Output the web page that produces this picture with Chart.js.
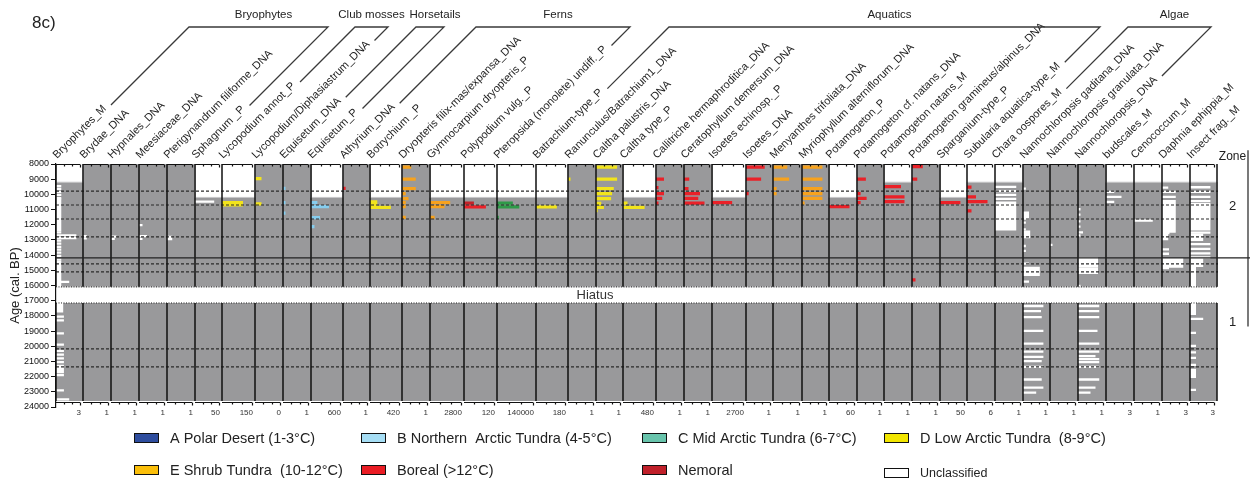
<!DOCTYPE html>
<html>
<head>
<meta charset="utf-8">
<title>8c) Macrofossil, pollen and sedaDNA indicator taxa</title>
<script src="https://cdn.jsdelivr.net/npm/chart.js@4.4.1/dist/chart.umd.min.js"></script>
<style>
  html, body { margin: 0; padding: 0; background: #fff; }
  canvas { display: block; }
</style>
</head>
<body>
<canvas id="strat" width="1258" height="485"></canvas>
<script>
const FONT = '"Liberation Sans", Arial, Helvetica, sans-serif';

// ---- taxa (one stratigraphic column each) ----
const taxa = [
  'Bryophytes_M', 'Brydae_DNA', 'Hypnales_DNA', 'Meesiaceae_DNA', 'Pterigynandrum filiforme_DNA',
  'Sphagnum _P', 'Lycopodium annot_P', 'Lycopodium/Diphasiastrum_DNA', 'Equisetum_DNA', 'Equisetum_P',
  'Athyrium_DNA', 'Botrychium _P', 'Dryopteris filix-mas/expansa_DNA', 'Gymnocarpium dryopteris_P',
  'Polypodium vulg._P', 'Pteropsida (monolete) undiff._P', 'Batrachium-type_P', 'Ranunculus/Batrachium1_DNA',
  'Caltha palustris_DNA', 'Caltha type_P', 'Callitriche hermaphroditica_DNA', 'Ceratophyllum demersum_DNA',
  'Isoetes echinosp._P', 'Isoetes_DNA', 'Menyanthes trifoliata_DNA', 'Myriophyllum alterniflorum_DNA',
  'Potamogeton_P', 'Potamogeton cf. natans_DNA', 'Potamogeton natans_M', 'Potamogeton gramineus/alpinus_DNA',
  'Sparganium-type_P', 'Subularia aquatica-type_M', 'Chara oospores_M', 'Nannochloropsis gaditana_DNA',
  'Nannochloropsis granulata_DNA', 'Nannochloropsis_DNA', 'budscales_M', 'Cenococcum_M',
  'Daphnia ephippia_M', 'Insect frag._M'
];

// full-scale value printed under each column
const scaleLabels = ['3','1','1','1','1','50','150','0','1','600','1','420','1','2800','120','140000','180','1','1','480',
                     '1','1','2700','1','1','1','60','1','1','1','50','6','1','1','1','1','3','1','3','3'];

const groupNames = ['Bryophytes', 'Club mosses', 'Horsetails', 'Ferns', 'Aquatics', 'Algae'];
const groupSpans = [[0, 5], [6, 7], [8, 9], [10, 15], [16, 31], [32, 35]];

// youngest sample of each record (cal. BP)
const firstSampleAge = [9200, 8000, 8000, 8000, 8000, 10200, 10200, 8000, 8000, 10200,
                        8000, 10200, 8000, 10200, 10200, 10200, 10200, 8000, 8000, 10200,
                        8000, 8000, 10200, 8000, 8000, 8000, 10200, 8000, 9200, 8000,
                        10200, 9200, 9200, 8000, 8000, 8000, 9200, 9200, 9200, 9200];
const hiatus = [16090, 17150];
const recordBase = 23600;
const zoneDashed = [9780, 10700, 11620, 12800, 14580, 15100, 20170, 21360];
const zoneBoundary = 14180;
const zoneLabels = ['2', '1'];
const zoneLabelAges = [10800, 18400];

// samples: [taxon index, age (cal. BP), value as a fraction of the column's full scale]
const polarDesert = [];
const northernArcticTundra = [
  [8, 9600, 0.10], [8, 10540, 0.10], [8, 11230, 0.10],
  [9, 10540, 0.22], [9, 10800, 0.62], [9, 11530, 0.31], [9, 12120, 0.12]
];
const midArcticTundra = [
  [15, 10570, 0.44], [15, 10830, 0.62], [15, 11510, 0.05]
];
const lowArcticTundra = [
  [6, 10540, 0.70], [6, 10690, 0.70],
  [7, 8970, 0.26], [7, 10630, 0.26],
  [11, 10500, 0.25], [11, 10660, 0.25], [11, 10850, 0.72],
  [16, 10830, 0.72],
  [17, 9000, 0.10],
  [18, 8200, 0.88], [18, 8990, 0.88], [18, 9620, 0.74], [18, 9950, 0.67], [18, 10280, 0.63],
  [18, 10590, 0.22], [18, 10850, 0.33], [18, 11070, 0.07],
  [19, 10570, 0.15], [19, 10850, 0.72]
];
const shrubTundra = [
  [12, 8200, 0.37], [12, 8990, 0.55], [12, 9620, 0.55], [12, 9950, 0.15], [12, 10280, 0.26],
  [12, 10540, 0.15], [12, 10800, 0.15], [12, 11510, 0.15],
  [13, 10540, 0.65], [13, 10810, 0.47], [13, 11510, 0.15],
  [24, 8200, 0.55], [24, 8990, 0.62], [24, 9620, 0.14], [24, 9950, 0.14],
  [25, 8200, 0.85], [25, 8990, 0.85], [25, 9620, 0.85], [25, 9950, 0.85], [25, 10260, 0.85], [25, 10570, 0.11]
];
const boreal = [
  [10, 9600, 0.11],
  [14, 10830, 0.73],
  [20, 8990, 0.32], [20, 9560, 0.10], [20, 9950, 0.32], [20, 10260, 0.25], [20, 10570, 0.10],
  [21, 8990, 0.21], [21, 9620, 0.18], [21, 9950, 0.64], [21, 10260, 0.57], [21, 10570, 0.82],
  [22, 10540, 0.65],
  [23, 8200, 0.78], [23, 8990, 0.63], [23, 9950, 0.11],
  [26, 10810, 0.82],
  [27, 8990, 0.37], [27, 9950, 0.15], [27, 10260, 0.40], [27, 10540, 0.15],
  [28, 9490, 0.68], [28, 10170, 0.82], [28, 10480, 0.82],
  [29, 8180, 0.43], [29, 8990, 0.21], [29, 15630, 0.14],
  [30, 10540, 0.85],
  [31, 9530, 0.18], [31, 10170, 0.36], [31, 10480, 0.82], [31, 11090, 0.18]
];
const nemoral = [
  [14, 10570, 0.33]
];
const unclassified = [
  [0, 9450, 0.22], [0, 9640, 0.22], [0, 9830, 0.22], [0, 10040, 0.22], [0, 10250, 0.22],
  [0, 12500, 0.22], [0, 12700, 0.85], [0, 12880, 0.85], [0, 13050, 0.22], [0, 13250, 0.22],
  [0, 13450, 0.22], [0, 13640, 0.22], [0, 13840, 0.22], [0, 14050, 0.22], [0, 14300, 0.22], [0, 15760, 0.55],
  [0, 18050, 0.33], [0, 18300, 0.33], [0, 19150, 0.33], [0, 19900, 0.33], [0, 20300, 0.33], [0, 20550, 0.33],
  [0, 20800, 0.33], [0, 21050, 0.33], [0, 21900, 0.33], [0, 22900, 0.33], [0, 23500, 0.55],
  [1, 12750, 0.15], [1, 12900, 0.15],
  [2, 12780, 0.22], [2, 12930, 0.15],
  [3, 12030, 0.14], [3, 12750, 0.32], [3, 12930, 0.14],
  [4, 12800, 0.21], [4, 12950, 0.21],
  [5, 10480, 0.80],
  [32, 9510, 0.85], [32, 9780, 0.85], [32, 10040, 0.85], [32, 10300, 0.85],
  [33, 9620, 0.12], [33, 11860, 0.12], [33, 12310, 0.12], [33, 13400, 0.12], [33, 13720, 0.12],
  [33, 14560, 0.25], [33, 15750, 0.25],
  [33, 17350, 0.85], [33, 17680, 0.75], [33, 18080, 0.78], [33, 18990, 0.85], [33, 19830, 0.85],
  [33, 20350, 0.85], [33, 20700, 0.85], [33, 20980, 0.78], [33, 21360, 0.85], [33, 22190, 0.78],
  [33, 22730, 0.85], [33, 23060, 0.55],
  [34, 13330, 0.10],
  [35, 10980, 0.10], [35, 11340, 0.10], [35, 11780, 0.10], [35, 12120, 0.10], [35, 12500, 0.20],
  [35, 12700, 0.10], [35, 16020, 0.10],
  [35, 17350, 0.85], [35, 17680, 0.85], [35, 18080, 0.85], [35, 18990, 0.78], [35, 19830, 0.85],
  [35, 20350, 0.85], [35, 20650, 0.70], [35, 20850, 0.85], [35, 21050, 0.85], [35, 21360, 0.85],
  [35, 22190, 0.85], [35, 22730, 0.70], [35, 23060, 0.50],
  [36, 9840, 0.33], [36, 10170, 0.62], [36, 10500, 0.33],
  [37, 11730, 0.75],
  [38, 9560, 0.25], [38, 9840, 0.55], [38, 10170, 0.55], [38, 12550, 0.30], [38, 13620, 0.28],
  [38, 13910, 0.28], [38, 14850, 0.28],
  [39, 9530, 0.85], [39, 9840, 0.85], [39, 10170, 0.85], [39, 10450, 0.85], [39, 12520, 0.85],
  [39, 13270, 0.85], [39, 13590, 0.85], [39, 13880, 0.85], [39, 14150, 0.85],
  [39, 18200, 0.55], [39, 19120, 0.25], [39, 19970, 0.25], [39, 20400, 0.25], [39, 20760, 0.25],
  [39, 21220, 0.25], [39, 22870, 0.25]
];
// consecutive unclassified samples: [taxon index, from age, to age, value]
const unclassifiedRuns = [
  [0, 10350, 12350, 0.22], [0, 14450, 16050, 0.22], [0, 17150, 17700, 0.30], [0, 21300, 21700, 0.33],
  [32, 10550, 12300, 0.85],
  [33, 11200, 11600, 0.25], [33, 12450, 12820, 0.30], [33, 14840, 15300, 0.70],
  [35, 14220, 14700, 0.80], [35, 14870, 15170, 0.80],
  [38, 10450, 12450, 0.55], [38, 12650, 12950, 0.25], [38, 14270, 14750, 0.85],
  [39, 10650, 12300, 0.85], [39, 12650, 13000, 0.55], [39, 14250, 14700, 0.55], [39, 14750, 16050, 0.25],
  [39, 17150, 17870, 0.25], [39, 21550, 22010, 0.25]
];

const legendLabels = ['A Polar Desert (1-3°C)', 'B Northern  Arctic Tundra (4-5°C)', 'C Mid Arctic Tundra (6-7°C)',
  'D Low Arctic Tundra  (8-9°C)', 'E Shrub Tundra  (10-12°C)', 'Boreal (>12°C)', 'Nemoral', 'Unclassified'];

// ---- layout and styling ----
const columnWidths = [27, 28, 28, 28, 28, 27, 33, 28, 28, 32, 27, 32, 28, 34, 33, 39, 32, 28, 27, 33,
                      28, 28, 34, 27, 29, 27, 28, 27, 28, 28, 27, 28, 28, 27, 28, 28, 28, 28, 28, 27];
const zoneStripWidth = 33;
const sampleSpan = 215;      // vertical extent of one coloured sample bar, years
const whiteSpan = 150;       // vertical extent of one unclassified sample bar, years
const GREY = '#99999b';
const barColors = { A: '#2e4d9e', B: '#86cdee', C: '#2e9a48', D: '#f2e41c', E: '#f7a21d',
                    boreal: '#ea2128', nemoral: '#c42229', unclassified: '#ffffff' };
const legendColors = ['#2e4d9e', '#a6def5', '#68c4ac', '#f2e600', '#fbbf0a', '#ea1c24', '#c0202a', '#ffffff'];

const colStart = [];
let acc = 0;
columnWidths.forEach(w => { colStart.push(acc); acc += w; });
const columnsEnd = acc;
const xMax = columnsEnd + zoneStripWidth;

const barLength = (i, v) => v * (columnWidths[i] - 3);
function box(i, top, bottom, v) {
  const x0 = colStart[i], x1 = x0 + barLength(i, v);
  return [{x: x0, y: top}, {x: x1, y: top}, {x: x1, y: bottom}, {x: x0, y: bottom}, {x: x0, y: top}, {x: x0, y: null}];
}
const samplesToBoxes = (list, span) => list.flatMap(([i, age, v]) => box(i, age - span / 2, age + span / 2, v));
const runsToBoxes = list => list.flatMap(([i, a, b, v]) => box(i, a - whiteSpan / 2, b + whiteSpan / 2, v));

// grey record bodies: stepped top above the hiatus, flat block below it
const greyUpper = [];
firstSampleAge.forEach((a, i) => { greyUpper.push({x: colStart[i], y: a}, {x: colStart[i] + columnWidths[i], y: a}); });
greyUpper.push({x: columnsEnd, y: hiatus[0]}, {x: 0, y: hiatus[0]});
const greyLower = [{x: 0, y: hiatus[1]}, {x: columnsEnd, y: hiatus[1]}, {x: columnsEnd, y: recordBase}, {x: 0, y: recordBase}];

const borders = [];
[...colStart, columnsEnd].forEach(x => {
  borders.push({x, y: 8000}, {x, y: hiatus[0]}, {x, y: null}, {x, y: hiatus[1]}, {x, y: recordBase}, {x, y: null});
});
const dashed = zoneDashed.flatMap(a => [{x: 0, y: a}, {x: columnsEnd + 1, y: a}, {x: 0, y: null}]);
const hiatusEdges = hiatus.flatMap(a => [{x: 0, y: a}, {x: columnsEnd, y: a}, {x: 0, y: null}]);

function shapeSet(data, color, order, extra = {}) {
  return Object.assign({ type: 'line', data, xAxisID: 'x', yAxisID: 'y', backgroundColor: color, borderWidth: 0,
    fill: 'shape', pointRadius: 0, spanGaps: false, order }, extra);
}
function lineSet(data, color, width, dash, order, extra = {}) {
  return Object.assign({ type: 'line', data, xAxisID: 'x', yAxisID: 'y', borderColor: color, borderWidth: width,
    borderDash: dash, fill: false, pointRadius: 0, spanGaps: false, order }, extra);
}

const datasets = [
  shapeSet(greyUpper, GREY, 20, { borderColor: '#c6c6c8', borderWidth: 1 }),
  shapeSet(greyLower, GREY, 19),
  shapeSet([...samplesToBoxes(unclassified, whiteSpan), ...runsToBoxes(unclassifiedRuns)], barColors.unclassified, 15),
  shapeSet(samplesToBoxes(polarDesert, sampleSpan), barColors.A, 12),
  shapeSet(samplesToBoxes(northernArcticTundra, sampleSpan), barColors.B, 12),
  shapeSet(samplesToBoxes(midArcticTundra, sampleSpan), barColors.C, 12),
  shapeSet(samplesToBoxes(lowArcticTundra, sampleSpan), barColors.D, 12),
  shapeSet(samplesToBoxes(shrubTundra, sampleSpan), barColors.E, 12),
  shapeSet(samplesToBoxes(boreal, sampleSpan), barColors.boreal, 12),
  shapeSet(samplesToBoxes(nemoral, sampleSpan), barColors.nemoral, 11),
  lineSet(hiatusEdges, '#222', 1, [1, 1.5], 6),
  lineSet(dashed, '#2a2a2a', 1.2, [3, 2], 5),
  lineSet(borders, '#111', 1.5, [], 4),
  lineSet([{x: 0, y: zoneBoundary}, {x: xMax, y: zoneBoundary}], '#222', 1.3, [], 3),
  lineSet([{x: xMax - 2, y: 7100}, {x: xMax - 2, y: 18700}], '#222', 1.2, [], 3, { clip: false })
];

// ---- decorations: column mini-axes, rotated taxon names, group brackets, zones, legend ----
const decorations = {
  id: 'decorations',
  afterDatasetsDraw(chart) {
    const {ctx, scales: {x, y}} = chart;
    ctx.save();
    ctx.strokeStyle = '#111';
    ctx.lineWidth = 1.2;
    const yTop = Math.round(y.getPixelForValue(8000)) + 0.5;
    const yBot = Math.round(y.getPixelForValue(recordBase)) + 1.5;
    colStart.forEach((s, i) => {
      const x0 = x.getPixelForValue(s), x1 = x.getPixelForValue(s + columnWidths[i] - 3);
      [yTop, yBot].forEach(yy => {
        ctx.beginPath();
        ctx.moveTo(x0, yy); ctx.lineTo(x1, yy);
        [1 / 3, 2 / 3, 1].forEach(f => {
          const xt = Math.round(x0 + (x1 - x0) * f) + 0.5;
          ctx.moveTo(xt, yy); ctx.lineTo(xt, yy + (f === 1 ? 3 : 2));
        });
        ctx.stroke();
      });
    });
    // hiatus label
    ctx.fillStyle = '#333';
    ctx.font = `13px ${FONT}`;
    ctx.textAlign = 'center';
    ctx.textBaseline = 'middle';
    ctx.fillText('Hiatus', x.getPixelForValue(colStart[18]) - 1, y.getPixelForValue((hiatus[0] + hiatus[1]) / 2) + 1);
    ctx.restore();
  },
  afterDraw(chart) {
    const {ctx, scales: {x, y}} = chart;
    const c = Math.SQRT1_2;
    ctx.save();
    // panel tag
    ctx.fillStyle = '#222';
    ctx.font = `17px ${FONT}`;
    ctx.textAlign = 'left';
    ctx.textBaseline = 'middle';
    ctx.fillText('8c)', 32, 23);

    // taxon names, rotated 45 degrees
    ctx.font = `11px ${FONT}`;
    ctx.fillStyle = '#1e1e1e';
    const anchors = colStart.map(s => ({ax: x.getPixelForValue(s) + 1, ay: 159}));
    taxa.forEach((t, i) => {
      ctx.save();
      ctx.translate(anchors[i].ax, anchors[i].ay);
      ctx.rotate(-Math.PI / 4);
      ctx.textAlign = 'left';
      ctx.textBaseline = 'alphabetic';
      ctx.fillText(t, 0, 0);
      ctx.restore();
    });

    // group brackets continue the first and last names of each group
    const bracketY = 27;
    ctx.strokeStyle = '#3a3a3a';
    ctx.lineWidth = 1.3;
    const ends = groupSpans.map(([a, b]) => [a, b].map(i => {
      const w = ctx.measureText(taxa[i]).width + 6;
      const sx = anchors[i].ax + w * c, sy = anchors[i].ay - w * c;
      return {sx, sy, tx: sx + (sy - bracketY)};
    }));
    ends.forEach(([l, r]) => {
      ctx.beginPath();
      ctx.moveTo(l.sx, l.sy); ctx.lineTo(l.tx, bracketY);
      ctx.lineTo(r.tx, bracketY); ctx.lineTo(r.sx, r.sy);
      ctx.stroke();
    });
    ctx.font = `11.5px ${FONT}`;
    ctx.fillStyle = '#222';
    ctx.textAlign = 'center';
    ctx.textBaseline = 'middle';
    ends.forEach(([l, r], g) => ctx.fillText(groupNames[g], (l.tx + r.tx) / 2 + (g === 1 ? 0 : 5), 15));

    // zone column
    const zx = x.getPixelForValue((columnsEnd + xMax) / 2) - 1;
    ctx.font = `12px ${FONT}`;
    ctx.fillText('Zone', zx, 157);
    ctx.font = `13px ${FONT}`;
    zoneLabels.forEach((z, k) => ctx.fillText(z, zx, y.getPixelForValue(zoneLabelAges[k])));

    // legend, four columns by two rows
    const legendCols = [134, 361, 642, 884], legendRows = [438, 470];
    legendLabels.forEach((lab, k) => {
      const bx = legendCols[k % 4];
      const last = k === legendLabels.length - 1;
      const by = legendRows[Math.floor(k / 4)] + (last ? 3 : 0);
      ctx.fillStyle = legendColors[k];
      ctx.fillRect(bx, by - 5, 25, 10);
      ctx.strokeStyle = '#111';
      ctx.lineWidth = 1;
      ctx.strokeRect(bx + 0.5, by - 4.5, 24, 9);
      ctx.fillStyle = '#222';
      ctx.font = `${last ? 12.5 : 14.5}px ${FONT}`;
      ctx.textAlign = 'left';
      ctx.textBaseline = 'middle';
      ctx.fillText(lab, bx + 36, by + 1);
    });
    ctx.restore();
  }
};

new Chart(document.getElementById('strat'), {
  type: 'line',
  data: { datasets },
  plugins: [decorations],
  options: {
    responsive: false,
    animation: false,
    events: [],
    layout: { padding: { top: 164, right: 8, bottom: 0, left: 0 } },
    plugins: { legend: { display: false }, tooltip: { enabled: false }, title: { display: false } },
    scales: {
      x: { type: 'linear', min: 0, max: xMax, display: false },
      xb: {
        type: 'linear', position: 'bottom', min: 0, max: xMax,
        afterBuildTicks: s => { s.ticks = colStart.map((st, i) => ({ value: st + columnWidths[i] - 2 })); },
        afterFit: s => { s.height = 78; },
        grid: { display: false, drawTicks: false },
        border: { display: false },
        ticks: {
          autoSkip: false, maxRotation: 0, minRotation: 0, align: 'end', padding: 1,
          color: '#333', font: { family: FONT, size: 8 },
          callback: (v, i) => scaleLabels[i]
        }
      },
      y: {
        type: 'linear', position: 'left', reverse: true, min: 8000, max: 24000,
        afterFit: s => { s.width = 56; },
        grid: { drawOnChartArea: false, tickLength: 5, color: '#111', lineWidth: 1 },
        border: { color: '#111', width: 1.2 },
        ticks: { stepSize: 1000, autoSkip: false, padding: 2, color: '#111',
                 font: { family: FONT, size: 9 }, callback: v => String(v) },
        title: { display: true, text: 'Age (cal. BP)', color: '#222',
                 font: { family: FONT, size: 13 }, padding: { top: 8, bottom: 0 } }
      }
    }
  }
});
</script>
</body>
</html>
